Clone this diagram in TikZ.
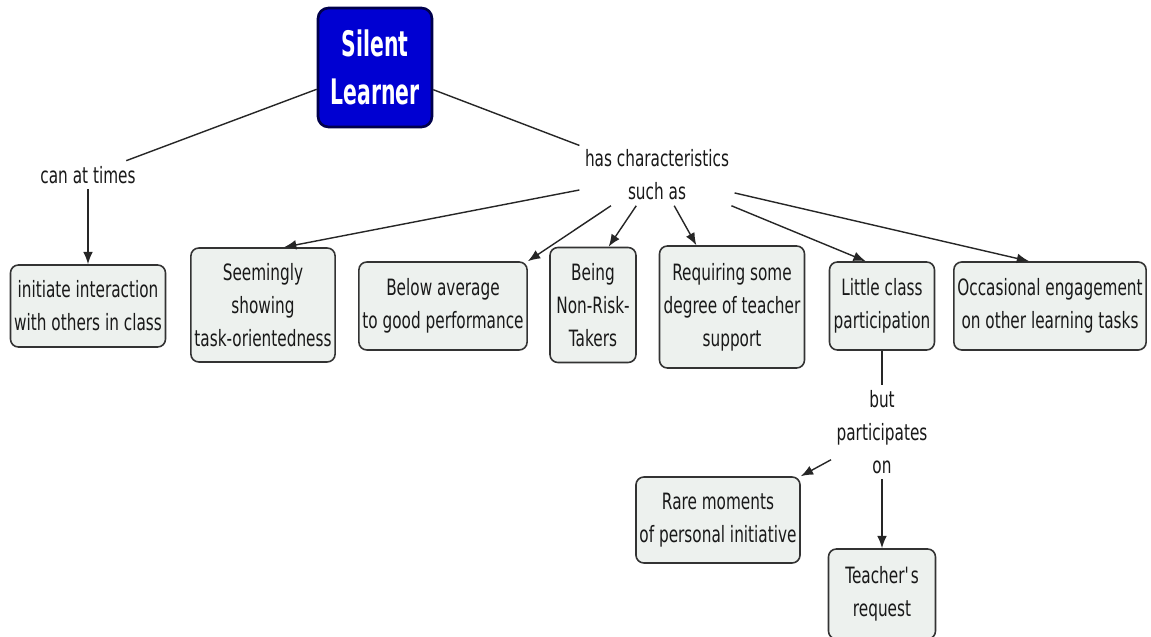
\documentclass[tikz,border=0pt]{standalone}
\usepackage{fontspec}
\setmainfont[FakeStretch=0.68]{DejaVu Sans}
\newfontfamily\titlefont[FakeStretch=0.58]{DejaVu Sans}
\usetikzlibrary{arrows.meta}
\definecolor{boxfill}{RGB}{237,241,238}
\definecolor{slblue}{RGB}{0,0,210}
\tikzset{
	concept/.style={draw=black!80,line width=0.9pt,fill=boxfill,rounded corners=4.5pt,
		align=center,text=black!90,inner sep=2pt,font=\fontsize{12.8}{18.7}\selectfont},
	linkword/.style={align=center,text=black!90,inner sep=3pt,font=\fontsize{12.8}{18.7}\selectfont},
	link/.style={draw=black!85,line width=0.8pt},
	arr/.style={link,-{Latex[length=7pt,width=5.5pt]}}
}
\begin{document}
\begin{tikzpicture}
	\useasboundingbox (0,0) rectangle (23.02,-12.74);
	\fill[white] (0,0) rectangle (23.02,-12.74);
	% main concept
	\node[draw=black!70!blue,line width=1.5pt,fill=slblue,rounded corners=6pt,text=white,
		align=center,minimum width=2.28cm,minimum height=2.38cm,
		font=\titlefont\bfseries\fontsize{20}{27}\selectfont] (sl) at (7.5,-1.35) {Silent\\Learner};
	% linking words
	\node[linkword] (can) at (1.76,-3.5) {can at times};
	\node[linkword] (has) at (13.14,-3.5) {has characteristics\\such as};
	\node[linkword] (but) at (17.64,-8.64) {but\\participates\\on};
	% concepts
	\node[concept,minimum width=3.1cm,minimum height=1.64cm] (init) at (1.76,-6.12) {initiate interaction\\with others in class};
	\node[concept,minimum width=2.88cm,minimum height=2.28cm] (seem) at (5.26,-6.1) {Seemingly\\showing\\task-orientedness};
	\node[concept,minimum width=3.34cm,minimum height=1.76cm] (below) at (8.86,-6.12) {Below average\\to good performance};
	\node[concept,minimum width=1.72cm,minimum height=2.3cm] (being) at (11.86,-6.1) {Being\\Non-Risk-\\Takers};
	\node[concept,minimum width=2.9cm,minimum height=2.44cm] (req) at (14.64,-6.14) {Requiring some\\degree of teacher\\support};
	\node[concept,minimum width=2.1cm,minimum height=1.76cm] (little) at (17.64,-6.12) {Little class\\participation};
	\node[concept,minimum width=3.7cm,minimum height=1.76cm] (occ) at (21.0,-6.12) {Occasional engagement\\on other learning tasks};
	\node[concept,minimum width=3.26cm,minimum height=1.72cm] (rare) at (14.36,-10.4) {Rare moments\\of personal initiative};
	\node[concept,minimum width=2.14cm,minimum height=1.8cm] (teach) at (17.64,-11.88) {Teacher\textquotesingle s\\request};
	% connectors
	\draw[link] (sl) -- (can);
	\draw[link] (sl) -- (has);
	\draw[arr] (can) -- (init);
	\draw[arr] (has) -- (seem.70);
	\draw[arr] (has) -- (below.north east);
	\draw[arr] (has) -- (being.75);
	\draw[arr] (has) -- (req.120);
	\draw[arr] (has) -- (little.110);
	\draw[arr] (has) -- (occ.115);
	\draw[link] (little) -- (but);
	\draw[arr] (but) -- (rare.north east);
	\draw[arr] (but) -- (teach);
\end{tikzpicture}
\end{document}
